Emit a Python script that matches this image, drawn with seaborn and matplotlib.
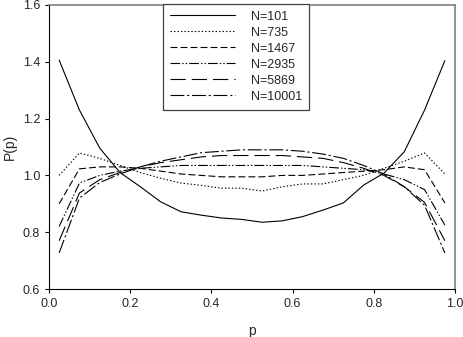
import numpy as np
import pandas as pd
import seaborn as sns
import matplotlib.pyplot as plt

# bin centres
p = [0.025, 0.075, 0.125, 0.175, 0.225, 0.275, 0.325, 0.375, 0.425, 0.475,
     0.525, 0.575, 0.625, 0.675, 0.725, 0.775, 0.825, 0.875, 0.925, 0.975]

n101 = [1.406, 1.23, 1.096, 1.01, 0.96, 0.907, 0.872, 0.86, 0.85, 0.845,
        0.835, 0.84, 0.855, 0.878, 0.903, 0.966, 1.008, 1.083, 1.23, 1.404]
n735 = [1.0, 1.079, 1.06, 1.035, 1.01, 0.99, 0.973, 0.965, 0.955, 0.955,
        0.945, 0.96, 0.97, 0.97, 0.985, 1.0, 1.025, 1.05, 1.079, 1.005]
n1467 = [0.9, 1.023, 1.03, 1.03, 1.025, 1.015, 1.005, 1.0, 0.995, 0.995,
         0.995, 1.0, 1.0, 1.005, 1.01, 1.015, 1.02, 1.03, 1.02, 0.903]
n2935 = [0.82, 0.973, 1.0, 1.015, 1.025, 1.03, 1.035, 1.035, 1.035, 1.035,
         1.035, 1.035, 1.035, 1.03, 1.025, 1.02, 1.005, 0.985, 0.95, 0.825]
n5869 = [0.77, 0.938, 0.985, 1.01, 1.03, 1.045, 1.055, 1.065, 1.07, 1.07,
         1.07, 1.07, 1.065, 1.06, 1.045, 1.025, 1.0, 0.96, 0.905, 0.77]
n10001 = [0.727, 0.92, 0.975, 1.005, 1.03, 1.05, 1.065, 1.08, 1.085, 1.09,
          1.09, 1.09, 1.085, 1.075, 1.06, 1.035, 1.005, 0.96, 0.895, 0.727]

labels = ['N=101', 'N=735', 'N=1467', 'N=2935', 'N=5869', 'N=10001']
series = [n101, n735, n1467, n2935, n5869, n10001]

df = pd.concat([pd.DataFrame({'p': p, 'P': s, 'N': lab}) for lab, s in zip(labels, series)],
               ignore_index=True)

sns.set_style('ticks')
plt.rcParams['font.family'] = ['Liberation Sans', 'DejaVu Sans']
plt.rcParams['lines.scale_dashes'] = False

dashes = {
    'N=101': '',
    'N=735': (1, 1.5),
    'N=1467': (5, 2.2),
    'N=2935': (7, 1.5, 1, 1.5, 1, 1.5),
    'N=5869': (11, 4.3),
    'N=10001': (10, 2, 1.5, 2),
}

fig = plt.figure(figsize=(4.63, 3.37), dpi=100)
ax = fig.add_axes([49 / 463, 1 - 289 / 337, 406 / 463, 284 / 337])

sns.lineplot(data=df, x='p', y='P', hue='N', style='N', hue_order=labels,
             style_order=labels, palette=['black'] * 6, dashes=dashes,
             linewidth=0.8, ax=ax)

ax.set_xlim(0, 1)
ax.set_ylim(0.6, 1.6)
ax.set_xticks([0.0, 0.2, 0.4, 0.6, 0.8, 1.0])
ax.set_yticks([0.6, 0.8, 1.0, 1.2, 1.4, 1.6])
ax.xaxis.set_major_formatter(plt.FormatStrFormatter('%.1f'))
ax.yaxis.set_major_formatter(plt.FormatStrFormatter('%.1f'))
ax.tick_params(labelsize=9, length=3, width=0.8, color='black')
ax.set_xlabel('p', fontsize=10, labelpad=10)
ax.set_ylabel('P(p)', fontsize=10, labelpad=4)

for side in ['left', 'bottom']:
    ax.spines[side].set_color('black')
    ax.spines[side].set_linewidth(0.8)
for side in ['top', 'right']:
    ax.spines[side].set_visible(True)
    ax.spines[side].set_color('#808080')
    ax.spines[side].set_linewidth(1.2)

handles, labs = ax.get_legend_handles_labels()
leg = ax.legend(handles, labs, loc='upper left', bbox_to_anchor=(0.281, 1.004),
                fontsize=9, frameon=True, fancybox=False, framealpha=1,
                edgecolor='#404040', handlelength=5.2, handletextpad=1.3,
                labelspacing=0.32, borderpad=0.55, borderaxespad=0)
leg.get_frame().set_linewidth(0.9)

fig.savefig('out.png', dpi=100)
